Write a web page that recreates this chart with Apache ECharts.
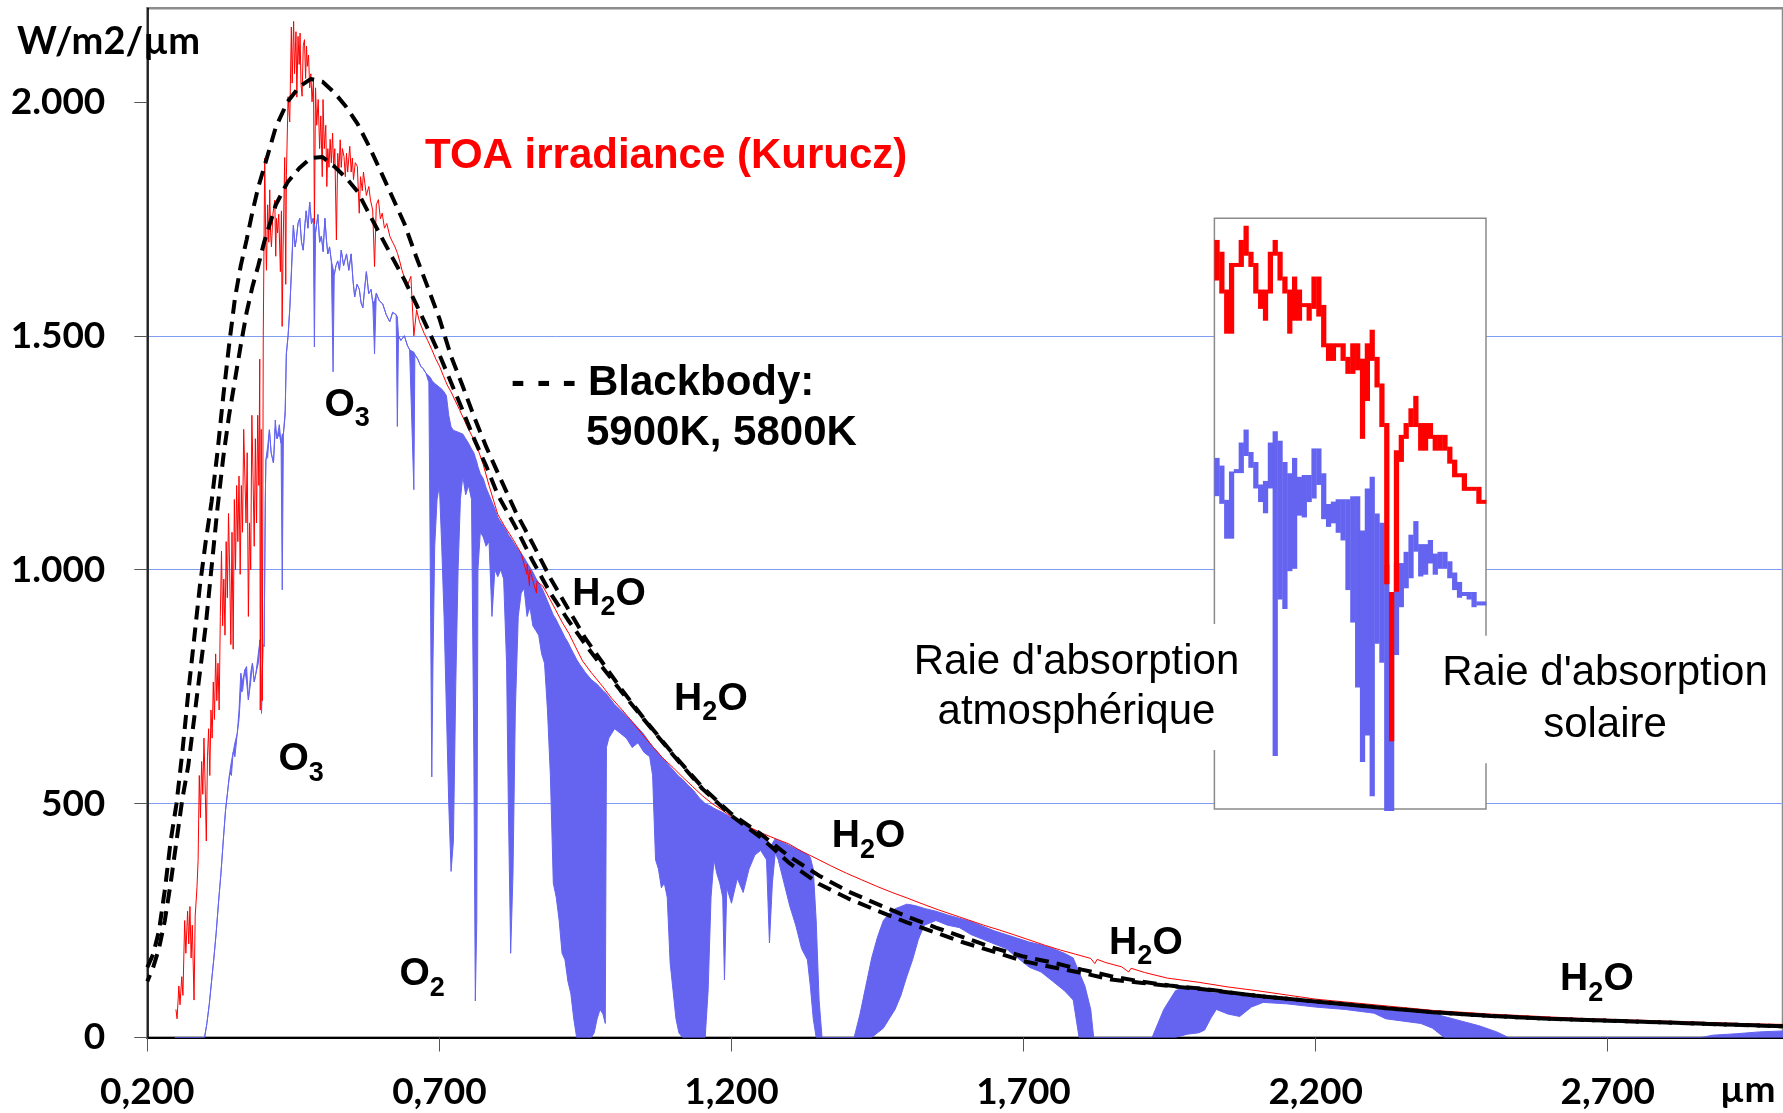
<!DOCTYPE html>
<html>
<head>
<meta charset="utf-8">
<script src="https://cdn.jsdelivr.net/npm/echarts@6/dist/echarts.min.js"></script>
<style>
  html, body { margin: 0; padding: 0; background: #ffffff; }
  #chart { width: 1783px; height: 1113px; }
</style>
</head>
<body>
<div id="chart"></div>
<script>
// ---- Axis ticks -------------------------------------------------------
const xTicks = [0.2, 0.7, 1.2, 1.7, 2.2, 2.7];          // µm
const yTicks = [0, 500, 1000, 1500, 2000];              // W/m2/µm

// ---- Top-of-atmosphere irradiance (Kurucz), [µm, W/m2/µm] -------------
const toa = [
  [0.249,60],[0.251,40],[0.254,110],[0.256,70],[0.259,130],[0.261,90],[0.264,250],[0.266,180],
  [0.269,270],[0.271,200],[0.273,280],[0.275,170],[0.277,240],[0.280,80],[0.282,260],[0.285,320],
  [0.287,380],[0.289,560],[0.291,470],[0.293,590],[0.295,520],[0.297,640],[0.299,540],[0.301,420],
  [0.303,600],[0.305,660],[0.307,560],[0.309,700],[0.311,640],[0.313,760],[0.315,680],[0.317,820],
  [0.319,720],[0.321,800],[0.323,700],[0.325,900],[0.327,1040],[0.329,880],[0.331,980],[0.333,860],
  [0.335,1060],[0.337,940],[0.339,1120],[0.341,1000],[0.343,840],[0.345,1080],[0.347,830],[0.349,1150],
  [0.351,1000],[0.353,1180],[0.355,1060],[0.357,1200],[0.359,990],[0.361,1180],[0.363,1080],[0.365,1300],
  [0.367,1200],[0.369,1100],[0.371,1250],[0.373,900],[0.375,1100],[0.377,1000],[0.379,1330],[0.381,1200],
  [0.383,1050],[0.385,1280],[0.387,1100],[0.389,1330],[0.391,1180],[0.3925,1450],[0.3934,700],[0.395,1300],
  [0.3968,720],[0.3985,1500],[0.401,1880],[0.4028,1700],[0.404,1640],[0.406,1780],[0.408,1700],[0.4096,1812],
  [0.411,1720],[0.4125,1690],[0.415,1760],[0.4182,1790],[0.4199,1670],[0.421,1751],[0.423,1720],[0.425,1760],
  [0.4278,1637],[0.4296,1767],[0.4308,1520],[0.4324,1683],[0.4352,1881],[0.437,1610],[0.4381,1843],[0.441,2011],
  [0.4438,1957],[0.4466,2160],[0.448,2040],[0.4505,2172],[0.452,2060],[0.4545,2150],[0.456,2010],[0.458,2140],
  [0.460,2080],[0.4615,2147],[0.463,2040],[0.465,2012],[0.467,2120],[0.469,2133],[0.471,2050],[0.4725,2119],
  [0.474,2076],[0.476,2100],[0.478,2030],[0.480,2060],[0.482,2000],[0.4845,2048],[0.4861,1740],[0.488,2030],
  [0.490,1950],[0.4925,2005],[0.495,1900],[0.497,1970],[0.4995,1840],[0.5008,2005],[0.503,1900],[0.5055,1950],
  [0.5073,1819],[0.509,1900],[0.511,1860],[0.513,1920],[0.515,1870],[0.5172,1933],[0.519,1860],[0.521,1900],
  [0.5237,1705],[0.526,1890],[0.528,1850],[0.5302,1919],[0.532,1860],[0.534,1900],[0.5367,1883],[0.539,1840],
  [0.541,1890],[0.543,1850],[0.5466,1905],[0.549,1850],[0.551,1880],[0.553,1834],[0.556,1870],[0.5596,1862],
  [0.5628,1762],[0.565,1840],[0.568,1810],[0.570,1850],[0.5727,1848],[0.575,1800],[0.5792,1819],[0.582,1790],
  [0.5858,1769],[0.5890,1648],[0.592,1780],[0.5956,1791],[0.599,1750],[0.6021,1762],[0.606,1730],[0.610,1740],
  [0.6153,1712],[0.620,1700],[0.624,1690],[0.6283,1676],[0.632,1660],[0.636,1640],[0.6414,1619],[0.646,1610],
  [0.6512,1627],[0.6563,1500],[0.6610,1555],[0.666,1530],[0.6740,1505],[0.680,1490],[0.6872,1470],[0.694,1450],
  [0.7002,1435],[0.7067,1415],[0.7133,1395],[0.720,1380],[0.734,1343],[0.748,1305],[0.763,1268],[0.775,1225],
  [0.785,1180],[0.800,1118],[0.812,1092],[0.825,1067],[0.840,1035],[0.8498,990],[0.8502,1012],[0.8542,965],
  [0.8548,1000],[0.8662,950],[0.8668,975],[0.877,965],[0.888,940],[0.899,914],[0.910,888],[0.922,863],
  [0.933,835],[0.945,805],[0.960,780],[0.979,751],[0.995,725],[1.013,700],[1.030,675],[1.047,649],
  [1.065,622],[1.082,598],[1.100,577],[1.116,557],[1.133,537],[1.150,517],[1.167,500],[1.184,486],
  [1.200,472],[1.218,458],[1.235,447],[1.252,437],[1.275,425],[1.298,414],[1.320,398],[1.343,384],
  [1.370,367],[1.397,351],[1.423,337],[1.449,323],[1.475,310],[1.501,298],[1.528,285],[1.554,273],
  [1.580,262],[1.606,251],[1.632,240],[1.658,230],[1.685,219],[1.711,208],[1.737,197],[1.763,187],
  [1.789,178],[1.815,169],[1.822,158],[1.826,167],[1.841,160],[1.868,151],[1.880,140],[1.884,148],
  [1.907,139],[1.946,127],[2.000,118],[2.050,108],[2.100,100],[2.150,91],[2.200,82],[2.250,76],
  [2.300,70],[2.350,64],[2.400,58],[2.450,54],[2.500,50],[2.550,47],[2.600,44],[2.650,41],
  [2.700,39],[2.750,37],[2.800,35],[2.850,33],[2.900,31],[2.950,29],[3.000,28]
];

// ---- Irradiance at the surface: [µm, upper envelope, lower envelope] ---
const surface = [
  [0.247,0,0],[0.298,0,0],[0.302,30,30],[0.306,70,70],[0.310,120,120],[0.314,170,170],[0.318,225,225],
  [0.322,290,290],[0.326,350,350],[0.330,420,420],[0.334,487,487],[0.337,520,520],[0.341,565,565],
  [0.344,590,560],[0.347,610,610],[0.350,630,600],[0.354,650,650],[0.357,700,680],[0.360,779,740],
  [0.363,760,740],[0.367,786,786],[0.370,793,760],[0.373,722,722],[0.377,780,760],[0.380,800,800],
  [0.383,760,760],[0.386,779,779],[0.390,820,800],[0.393,850,850],[0.3955,693,693],[0.398,840,840],
  [0.400,836,836],[0.402,1150,1150],[0.403,1235,1235],[0.406,1263,1240],[0.409,1299,1299],[0.412,1250,1250],
  [0.416,1228,1228],[0.419,1320,1300],[0.422,1280,1280],[0.426,1310,1290],[0.429,1270,1270],[0.431,1290,957],
  [0.433,1290,1290],[0.436,1340,1330],[0.438,1461,1461],[0.441,1500,1500],[0.444,1560,1560],[0.447,1650,1640],
  [0.450,1736,1736],[0.453,1690,1690],[0.455,1705,1705],[0.458,1740,1740],[0.461,1751,1751],[0.464,1700,1700],
  [0.467,1683,1683],[0.470,1740,1740],[0.472,1767,1767],[0.475,1730,1730],[0.478,1786,1786],[0.481,1740,1740],
  [0.484,1751,1751],[0.486,1740,1476],[0.488,1720,1720],[0.492,1759,1759],[0.495,1700,1700],[0.498,1713,1713],
  [0.501,1680,1680],[0.504,1751,1751],[0.507,1700,1700],[0.509,1675,1675],[0.512,1690,1690],[0.515,1660,1660],
  [0.518,1644,1423],[0.520,1630,1630],[0.523,1650,1650],[0.526,1660,1660],[0.529,1640,1640],[0.532,1683,1683],
  [0.536,1650,1650],[0.541,1675,1675],[0.545,1640,1640],[0.549,1675,1675],[0.552,1620,1620],[0.555,1583,1583],
  [0.559,1610,1610],[0.563,1599,1599],[0.566,1570,1570],[0.569,1560,1560],[0.572,1600,1600],[0.575,1637,1637],
  [0.579,1590,1590],[0.583,1599,1599],[0.586,1570,1570],[0.589,1575,1461],[0.592,1591,1591],[0.597,1575,1575],
  [0.603,1568,1568],[0.609,1545,1545],[0.615,1530,1530],[0.620,1550,1550],[0.626,1545,1545],[0.628,1540,1306],
  [0.630,1500,1500],[0.634,1490,1490],[0.640,1500,1500],[0.645,1480,1480],[0.649,1470,1470],[0.6563,1465,1171],
  [0.658,1460,1460],[0.663,1450,1450],[0.668,1435,1435],[0.672,1430,1430],[0.677,1420,1420],[0.682,1414,1400],
  [0.685,1410,900],[0.687,1405,557],[0.689,1402,800],[0.692,1398,1050],[0.696,1394,1150],[0.700,1390,1180],
  [0.704,1386,1050],[0.708,1380,900],[0.712,1372,700],[0.716,1330,500],[0.720,1305,355],[0.724,1298,420],
  [0.728,1296,750],[0.732,1294,1000],[0.736,1292,1150],[0.740,1290,1200],[0.745,1280,1160],[0.750,1270,1180],
  [0.755,1258,1150],[0.759,1250,600],[0.7615,1240,78],[0.764,1230,250],[0.766,1220,1000],[0.770,1205,1080],
  [0.775,1195,1070],[0.780,1175,1050],[0.785,1160,1060],[0.790,1145,900],[0.795,1130,1000],[0.800,1112,985],
  [0.805,1102,1000],[0.810,1093,980],[0.815,1083,800],[0.818,1075,500],[0.822,1068,180],[0.826,1060,350],
  [0.830,1052,700],[0.835,1043,900],[0.840,1035,950],[0.845,1026,960],[0.850,1015,900],[0.855,1005,920],
  [0.860,995,880],[0.865,982,870],[0.870,972,860],[0.875,962,820],[0.880,948,800],[0.885,933,700],
  [0.890,918,560],[0.895,903,330],[0.900,893,300],[0.905,880,250],[0.910,868,180],[0.915,855,166],
  [0.920,845,120],[0.925,832,94],[0.930,820,40],[0.935,808,0],[0.940,798,0],[0.950,780,0],[0.960,765,0],
  [0.965,760,10],[0.970,755,40],[0.975,748,60],[0.980,742,50],[0.984,737,30],[0.986,735,620],[0.990,728,640],
  [1.000,712,660],[1.010,700,650],[1.020,688,640],[1.030,675,620],[1.040,662,630],[1.050,648,610],
  [1.060,630,600],[1.065,622,560],[1.070,615,380],[1.075,608,360],[1.080,600,320],[1.085,593,330],
  [1.090,586,300],[1.095,579,160],[1.100,572,100],[1.105,565,40],[1.110,558,10],[1.116,552,0],
  [1.125,540,0],[1.135,528,0],[1.145,512,0],[1.155,500,0],[1.160,497,100],[1.165,494,300],[1.170,490,380],
  [1.175,487,350],[1.180,484,330],[1.185,481,300],[1.188,479,123],[1.192,476,320],[1.200,470,287],
  [1.210,463,340],[1.220,456,310],[1.230,449,360],[1.240,443,390],[1.250,437,400],[1.260,430,380],
  [1.265,405,202],[1.270,415,330],[1.275,425,395],[1.280,421,380],[1.290,416,330],[1.300,410,280],
  [1.310,404,240],[1.320,398,190],[1.330,391,166],[1.335,385,110],[1.340,360,40],[1.345,250,0],
  [1.350,80,0],[1.355,0,0],[1.410,0,0],[1.420,50,0],[1.430,110,0],[1.440,170,0],[1.450,215,10],
  [1.460,250,20],[1.470,265,40],[1.480,275,60],[1.490,280,90],[1.500,285,130],[1.510,283,166],
  [1.520,280,210],[1.530,276,240],[1.550,270,250],[1.570,262,240],[1.590,255,235],[1.610,248,220],
  [1.630,238,210],[1.650,228,200],[1.670,220,190],[1.690,212,170],[1.710,204,150],[1.730,198,140],
  [1.750,190,120],[1.770,180,100],[1.785,170,80],[1.795,140,0],[1.805,110,0],[1.815,60,0],[1.820,0,0],
  [1.920,0,0],[1.930,30,0],[1.940,60,0],[1.950,80,0],[1.960,100,0],[1.980,109,7],[2.000,108,10],
  [2.010,100,16],[2.020,96,40],[2.030,95,60],[2.050,94,50],[2.070,93,45],[2.090,92,65],[2.110,90,75],
  [2.150,85,72],[2.200,78,65],[2.250,72,60],[2.300,66,52],[2.320,62,40],[2.350,58,35],[2.380,55,30],
  [2.400,52,20],[2.420,45,0],[2.450,35,0],[2.480,25,0],[2.510,12,0],[2.530,0,0],[2.860,0,0],
  [2.880,5,0],[2.920,8,0],[2.960,12,0],[3.000,14,0]
];

// ---- Blackbody curves, [µm, W/m2/µm] -----------------------------------
const bb5900 = [
  [0.20,150],[0.21,178],[0.22,228],[0.23,315],[0.24,420],[0.25,500],[0.26,610],[0.27,735],[0.28,850],
  [0.29,965],[0.30,1060],[0.31,1145],[0.32,1250],[0.33,1370],[0.34,1480],[0.35,1580],[0.36,1650],
  [0.37,1705],[0.38,1765],[0.39,1818],[0.40,1860],[0.42,1946],[0.44,2000],[0.46,2032],[0.48,2049],
  [0.50,2043],[0.52,2020],[0.54,1990],[0.56,1953],[0.58,1904],[0.60,1850],[0.62,1795],[0.64,1740],
  [0.66,1670],[0.68,1604],[0.70,1537],[0.72,1456],[0.74,1392],[0.76,1325],[0.78,1263],[0.80,1207],
  [0.83,1125],[0.86,1055],[0.89,982],[0.92,917],[0.95,853],[0.98,800],[1.01,747],[1.05,682],
  [1.10,606],[1.15,535],[1.20,478],[1.25,435],[1.30,386],[1.35,346],[1.40,312],[1.45,285],[1.50,259],
  [1.55,235],[1.60,213],[1.65,191],[1.70,173],[1.75,160],[1.80,145],[1.85,131],[1.90,120],[1.95,111],
  [2.00,105],[2.10,89],[2.20,77],[2.30,65],[2.40,54],[2.50,46],[2.60,40],[2.70,36],[2.80,32],
  [2.90,28],[3.00,24]
];
const bb5800 = [
  [0.20,120],[0.21,150],[0.22,190],[0.23,250],[0.24,330],[0.25,420],[0.26,510],[0.27,580],[0.28,680],
  [0.29,780],[0.30,880],[0.31,1005],[0.32,1130],[0.33,1240],[0.34,1330],[0.35,1405],[0.36,1480],
  [0.37,1550],[0.38,1605],[0.39,1650],[0.40,1700],[0.42,1780],[0.44,1828],[0.46,1858],[0.48,1880],
  [0.50,1882],[0.52,1862],[0.54,1838],[0.56,1808],[0.58,1760],[0.60,1713],[0.62,1666],[0.64,1620],
  [0.66,1568],[0.68,1515],[0.70,1460],[0.72,1400],[0.74,1340],[0.76,1278],[0.78,1222],[0.80,1160],
  [0.83,1092],[0.86,1018],[0.89,950],[0.92,893],[0.95,840],[0.98,790],[1.01,742],[1.05,680],
  [1.10,604],[1.15,532],[1.20,474],[1.25,428],[1.30,372],[1.35,328],[1.40,297],[1.45,271],[1.50,246],
  [1.55,224],[1.60,202],[1.65,183],[1.70,163],[1.75,150],[1.80,138],[1.85,124],[1.90,117],[1.95,110],
  [2.00,104],[2.10,89],[2.20,77],[2.30,65],[2.40,54],[2.50,46],[2.60,40],[2.70,36],[2.80,32],
  [2.90,28],[3.00,24]
];

// ---- Inset: magnified detail, one column per sample, [top, bottom] in % of panel height
const insetToa = [
  [96.0,89.8],[94.0,87.6],[87.6,80.8],[92.1,80.8],[92.1,92.1],[96.0,92.1],[98.4,94.0],[94.0,92.1],
  [92.1,87.6],[87.6,85.0],[87.6,83.0],[94.0,87.6],[96.0,94.0],[94.0,89.8],[89.8,87.6],[87.6,80.8],
  [89.8,83.0],[87.6,83.0],[85.3,85.3],[85.3,83.0],[89.8,85.0],[89.8,83.7],[85.0,78.5],[78.5,76.2],
  [78.5,76.2],[78.5,78.5],[78.5,76.2],[76.2,74.0],[78.5,74.0],[78.5,74.6],[75.9,63.0],[78.5,69.4],
  [80.8,76.2],[76.2,71.7],[71.7,65.0],[65.0,38.4],[36.4,11.8],[60.4,37.1],[63.0,59.1],[65.0,63.0],
  [67.5,65.0],[69.6,65.0],[65.0,61.0],[65.0,61.0],[65.0,63.0],[63.0,61.0],[63.0,61.0],[63.0,61.0],
  [61.0,58.8],[58.8,56.5],[56.5,56.5],[56.5,54.2],[54.2,54.2],[54.2,54.2],[54.2,52.0],[52.0,52.0]
];
const insetSurface = [
  [59.1,53.3],[57.8,52.0],[52.0,46.1],[56.8,46.1],[57.2,57.2],[61.7,57.2],[63.9,60.1],[60.1,58.1],
  [58.4,54.6],[54.6,52.3],[55.2,50.4],[61.7,54.6],[63.6,9.3],[62.0,35.8],[58.4,34.2],[56.5,40.6],
  [59.1,41.0],[55.9,50.0],[56.2,49.7],[56.2,52.3],[60.7,52.9],[60.7,55.2],[56.5,49.4],[51.3,48.1],
  [51.7,48.7],[52.1,47.1],[52.1,45.8],[52.1,37.4],[52.6,31.9],[52.6,20.9],[46.8,8.3],[53.9,12.8],
  [55.9,2.5],[49.7,28.3],[48.1,25.1],[41.0,0],[35.8,0],[41.3,26.4],[41.3,34.5],[43.2,37.7],
  [46.1,39.4],[48.4,43.9],[44.5,39.7],[44.5,40.0],[45.2,41.9],[42.9,40.0],[43.2,41.0],[43.2,41.0],
  [41.6,39.4],[39.7,37.4],[38.1,36.1],[36.4,36.4],[36.4,35.8],[36.4,34.5],[34.8,34.8],[34.8,34.8]
];

// ---- Colours and fonts ----------------------------------------------------
const RED = '#ff0000';
const BLUE = '#6464f0';
const GRID_BLUE = '#7f9df2';
const SANS = '"Liberation Sans", Arial, sans-serif';
const AXIS_FONT = 'Lato, "Open Sans", sans-serif';

function fmtY(v) {
  if (v >= 1000) return Math.floor(v / 1000) + '.' + String(v % 1000).padStart(3, '0');
  return String(v);
}
function fmtX(v) { return v.toFixed(3).replace('.', ','); }

// text placed by its baseline (alphabetic) position
function txt(x, baseline, text, size, opt) {
  opt = opt || {};
  return {
    type: 'text', z: 50, silent: true,
    x: x, y: baseline - size * (opt.mid || 0.35),
    style: {
      text: text, fill: opt.color || '#000',
      fontFamily: opt.family || SANS, fontSize: size,
      fontWeight: opt.weight || 'bold',
      align: opt.align || 'left', verticalAlign: 'middle'
    }
  };
}
// chemical formula labels with a subscript digit
function formula(x, baseline, parts) {
  const out = [];
  let cx = x;
  parts.forEach(p => {
    if (p.sub) {
      out.push(txt(cx, baseline + 9.5, p.t, 27));
      cx += 15.2;
    } else {
      out.push(txt(cx, baseline, p.t, 39));
      cx += (p.t === 'H' ? 28.2 : 30.3);
    }
  });
  return out;
}
const H2O = [{t: 'H'}, {t: '2', sub: true}, {t: 'O'}];
const O3 = [{t: 'O'}, {t: '3', sub: true}];
const O2 = [{t: 'O'}, {t: '2', sub: true}];

// one filled column per inset sample, spanning [top, bottom] plus the stroke width
function columnRenderer(color) {
  return function (params, api) {
    const i = api.value(0);
    const top = api.coord([i, api.value(1)]);
    const bot = api.coord([i, api.value(2)]);
    const w = api.size([1, 0])[0];
    return {
      type: 'rect',
      shape: { x: top[0] - w / 2, y: top[1] - 2, width: w + 0.4, height: bot[1] - top[1] + 4 },
      style: { fill: color }
    };
  };
}

// surface spectrum: band between the upper and lower envelopes, as one polygon
function surfaceRenderer(params, api) {
  if (params.dataIndex !== 0) return null;
  const pts = [];
  for (let k = 0; k < surface.length; k++) pts.push(api.coord([surface[k][0], surface[k][1]]));
  for (let k = surface.length - 1; k >= 0; k--) pts.push(api.coord([surface[k][0], surface[k][2]]));
  return {
    type: 'polygon',
    shape: { points: pts },
    style: { fill: BLUE, stroke: BLUE, lineWidth: 1 }
  };
}

const chart = echarts.init(document.getElementById('chart'), null, { renderer: 'canvas' });

const option = {
  animation: false,
  backgroundColor: '#ffffff',
  grid: [
    { left: 147.3, top: 8.3, width: 1639.1, height: 1029.2,
      show: true, backgroundColor: 'transparent', borderColor: '#8c8c8c', borderWidth: 2.5 },
    { left: 1214.4, top: 218.3, width: 271.6, height: 590.7, z: 1,
      show: true, backgroundColor: '#ffffff', borderColor: '#8a8a8a', borderWidth: 1.5 }
  ],
  xAxis: [
    {
      type: 'value', gridIndex: 0, min: 0.2, max: 3.0,
      axisLine: { show: true, onZero: false, lineStyle: { color: '#000', width: 2 } },
      axisTick: { show: true, customValues: xTicks, length: 14, lineStyle: { color: '#555', width: 1 } },
      axisLabel: { customValues: xTicks, formatter: fmtX, showMinLabel: true,
        fontFamily: AXIS_FONT, fontWeight: 'bold', fontSize: 37, color: '#000',
        margin: 55, verticalAlign: 'middle' },
      splitLine: { show: false }
    },
    { type: 'value', gridIndex: 1, min: 0, max: 56, show: false }
  ],
  yAxis: [
    {
      type: 'value', gridIndex: 0, min: 0, max: 2200, interval: 500,
      axisLine: { show: true, onZero: false, lineStyle: { color: '#000', width: 1.5 } },
      axisTick: { show: true, customValues: yTicks, length: 13, lineStyle: { color: '#555', width: 1 } },
      axisLabel: { customValues: yTicks, formatter: fmtY, showMinLabel: true,
        fontFamily: AXIS_FONT, fontWeight: 'bold', fontSize: 37, color: '#000', margin: 42 },
      splitLine: { show: true, showMinLine: false, showMaxLine: false,
        lineStyle: { color: GRID_BLUE, width: 1 } }
    },
    { type: 'value', gridIndex: 1, min: 0, max: 100, show: false }
  ],
  series: [
    {
      name: 'Surface', type: 'custom', xAxisIndex: 0, yAxisIndex: 0, z: 2, silent: true,
      clip: true,
      renderItem: surfaceRenderer,
      encode: { x: 0, y: [1, 2] },
      data: surface
    },
    {
      name: 'TOA irradiance (Kurucz)', type: 'line', xAxisIndex: 0, yAxisIndex: 0,
      symbol: 'none', silent: true, z: 3,
      lineStyle: { width: 1, color: RED },
      data: toa
    },
    {
      name: 'Blackbody 5900K', type: 'line', xAxisIndex: 0, yAxisIndex: 0,
      symbol: 'none', silent: true, z: 4,
      lineStyle: { width: 4, color: '#000', type: [14, 8] },
      data: bb5900
    },
    {
      name: 'Blackbody 5800K', type: 'line', xAxisIndex: 0, yAxisIndex: 0,
      symbol: 'none', silent: true, z: 4,
      lineStyle: { width: 4, color: '#000', type: [14, 8], dashOffset: 7 },
      data: bb5800
    },
    {
      name: 'inset-surface', type: 'custom', xAxisIndex: 1, yAxisIndex: 1, z: 3, silent: true,
      renderItem: columnRenderer(BLUE),
      data: insetSurface.map((d, i) => [i + 0.5, d[0], d[1]])
    },
    {
      name: 'inset-toa', type: 'custom', xAxisIndex: 1, yAxisIndex: 1, z: 4, silent: true,
      renderItem: columnRenderer(RED),
      data: insetToa.map((d, i) => [i + 0.5, d[0], d[1]])
    }
  ],
  graphic: [].concat(
    [
      txt(17, 55, 'W/m2/µm', 38, { family: AXIS_FONT, mid: 0.36 }),
      txt(1720, 1103, 'µm', 37, { family: AXIS_FONT, mid: 0.36 }),
      txt(425, 171, 'TOA irradiance (Kurucz)', 42, { color: RED }),
      txt(511, 397.8, '- - - Blackbody:', 42),
      txt(586, 448.3, '5900K, 5800K', 42)
    ],
    formula(324.5, 418.6, O3),
    formula(278.5, 773, O3),
    formula(399.5, 988.3, O2),
    formula(572.2, 607.6, H2O),
    formula(674, 712.5, H2O),
    formula(831.7, 850, H2O),
    formula(1109, 956.7, H2O),
    formula(1560, 993.3, H2O),
    [
      { type: 'text', z: 60, silent: true, x: 1076.5, y: 687,
        style: { text: "Raie d'absorption\natmosphérique", fill: '#000', fontFamily: SANS, fontSize: 42,
          fontWeight: 'normal', align: 'center', verticalAlign: 'middle', lineHeight: 50,
          backgroundColor: '#ffffff', padding: [10, 8, 16, 8] } },
      { type: 'text', z: 60, silent: true, x: 1605, y: 699.5,
        style: { text: "Raie d'absorption\nsolaire", fill: '#000', fontFamily: SANS, fontSize: 42,
          fontWeight: 'normal', align: 'center', verticalAlign: 'middle', lineHeight: 51.7,
          backgroundColor: '#ffffff', padding: [8, 8, 16, 8] } }
    ]
  )
};

chart.setOption(option);
</script>
</body>
</html>
